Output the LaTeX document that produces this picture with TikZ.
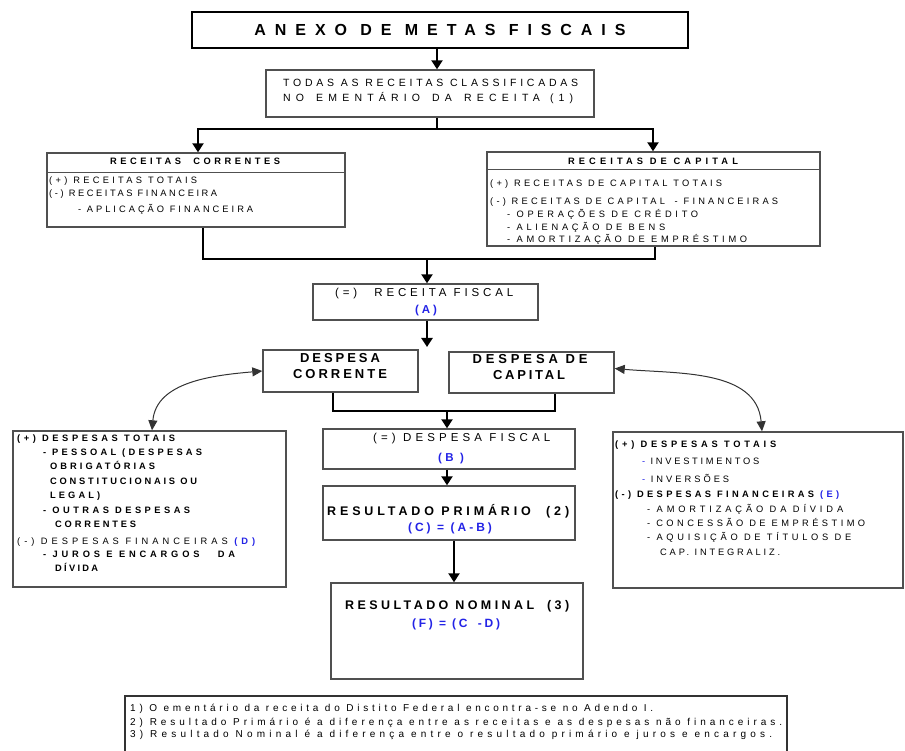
\documentclass[tikz,border=0pt]{standalone}
\usepackage{fontspec}
\setmainfont{Liberation Sans}
\usepackage{graphicx}
\usetikzlibrary{arrows.meta,calc}
\definecolor{fblue}{RGB}{35,35,230}
\definecolor{bord}{RGB}{80,80,80}
\newlength\wa
\newlength\wb
\newcommand\lw[2]{%
  \settowidth\wa{\addfontfeature{LetterSpace=0}#2}%
  \settowidth\wb{\addfontfeature{LetterSpace=100}#2}%
  \edef\lsval{\fpeval{round(100*(#1pt-\wa)/(\wb-\wa),2)}}%
  \mbox{\addfontfeature{LetterSpace=\lsval}#2}}
\newcommand\fsz[1]{\fontsize{#1}{#1}\selectfont}
\newcommand\bl[1]{\textcolor{fblue}{\bfseries #1}}
\tikzset{
  box/.style={draw=bord, line width=1.4pt, rectangle, inner sep=0pt},
  con/.style={line width=2.4pt, draw=black},
  arr/.style={con, -{Triangle[length=9pt,width=11pt]}},
  carr/.style={line width=1pt, draw=black!80, {Triangle[length=10pt,width=9pt]}-{Triangle[length=10pt,width=9pt]}},
  tl/.style={inner sep=0pt, anchor=base west},
  tc/.style={inner sep=0pt, anchor=base},
  fs/.style={font=\fsz{9.3}},
  fsb/.style={font=\fsz{9.3}\bfseries},
  fm/.style={font=\fsz{11.5}},
  fmb/.style={font=\fsz{11.5}\bfseries},
  fl/.style={font=\fsz{12.5}\bfseries},
  fd/.style={font=\fsz{13}\bfseries},
  ft/.style={font=\fsz{10.5}},
  fn/.style={font=\fsz{10}},
}
\begin{document}
\begin{tikzpicture}[x=1pt,y=-1pt]
\useasboundingbox (0,0) rectangle (905,751);
\clip (0,0) rectangle (905,751);
% boxes
\node[box, draw=black, minimum width=496pt, minimum height=36pt] (title) at (440,30) {};
\node[box, minimum width=328pt, minimum height=47pt] (todas) at (430,93.5) {};
\node[box, minimum width=298pt, minimum height=74pt] (rc) at (196,190) {};
\node[box, minimum width=333pt, minimum height=94pt] (rk) at (653.5,199) {};
\node[box, minimum width=225pt, minimum height=36pt] (rf) at (425.5,302) {};
\node[box, minimum width=155pt, minimum height=42pt] (dc) at (340.5,371) {};
\node[box, minimum width=165pt, minimum height=41pt] (dk) at (531.5,372.5) {};
\node[box, minimum width=252pt, minimum height=40pt] (df) at (449,449) {};
\node[box, minimum width=252pt, minimum height=54pt] (rp) at (449,513) {};
\node[box, minimum width=252pt, minimum height=96pt] (rn) at (457,631) {};
\node[box, minimum width=273pt, minimum height=156pt] (ld) at (149.5,509) {};
\node[box, minimum width=290pt, minimum height=156pt] (rd) at (758,510) {};
\node[box, draw=black!80, line width=1.2pt, minimum width=662pt, minimum height=70pt] (fn) at (456,731) {};
\draw[bord, line width=1.4pt] ($(rc.north west)+(0,20)$) -- ($(rc.north east)+(0,20)$);
\draw[bord, line width=1.4pt] ($(rk.north west)+(0,18)$) -- ($(rk.north east)+(0,18)$);
% texts
\node[tc, font=\fsz{16}\bfseries] (t0) at (440,35.6) {\lw{371}{ANEXO DE METAS FISCAIS}};
\node[tl, ft] (t1) at (283,86.8) {\lw{295}{TODAS AS RECEITAS CLASSIFICADAS}};
\node[tl, ft] (t2) at (283,101.8) {\lw{290}{NO\hspace{4pt} EMENTÁRIO\hspace{4pt} DA\hspace{4pt} RECEITA\hspace{2pt} (1)}};
\node[tc, fsb] (c0) at (195,164.3) {\lw{170}{RECEITAS\hspace{6pt} CORRENTES}};
\node[tl, fs] (c1) at (49,183.3) {\lw{148}{(+) RECEITAS TOTAIS}};
\node[tl, fs] (c2) at (49,196.3) {\lw{168}{(-) RECEITAS FINANCEIRA}};
\node[tl, fs] (c3) at (78,212.3) {\lw{175}{- APLICAÇÃO FINANCEIRA}};
\node[tc, fsb] (k0) at (653,164.3) {\lw{170}{RECEITAS DE CAPITAL}};
\node[tl, fs] (k1) at (490,186.3) {\lw{232}{(+) RECEITAS DE CAPITAL TOTAIS}};
\node[tl, fs] (k2) at (490,204.3) {\lw{288}{(-) RECEITAS DE CAPITAL\hspace{4pt} - FINANCEIRAS}};
\node[tl, fs] (k3) at (507,217.3) {\lw{191}{- OPERAÇÕES DE CRÉDITO}};
\node[tl, fs] (k4) at (507,230.3) {\lw{158}{- ALIENAÇÃO DE BENS}};
\node[tl, fs] (k5) at (507,242.3) {\lw{240}{- AMORTIZAÇÃO DE EMPRÉSTIMO}};
\node[tl, fm] (f1) at (335,296.2) {\lw{178}{(=)\hspace{10pt} RECEITA FISCAL}};
\node[tc, fmb] (f2) at (426,313.2) {\lw{22}{\bl{(A)}}};
\node[tc, fd] (d1) at (340,362.7) {\lw{80}{DESPESA}};
\node[tc, fd] (d2) at (340,378.7) {\lw{94}{CORRENTE}};
\node[tc, fd] (d3) at (530,363.7) {\lw{115}{DESPESA DE}};
\node[tc, fd] (d4) at (529,379.7) {\lw{72}{CAPITAL}};
\node[tl, fm] (g1) at (373,441.2) {\lw{177}{(=) DESPESA FISCAL}};
\node[tc, fmb] (g2) at (451,461.2) {\lw{26}{\bl{(B )}}};
\node[tl, fl] (p1) at (327,515.5) {\lw{242}{RESULTADO PRIMÁRIO\hspace{8pt} (2)}};
\node[tc, font=\fsz{12}\bfseries] (p2) at (450,531.5) {\lw{84}{\bl{(C) = (A-B)}}};
\node[tl, fl] (n1) at (345,609.5) {\lw{224}{RESULTADO NOMINAL\hspace{6pt} (3)}};
\node[tc, font=\fsz{12}\bfseries] (n2) at (456,627.5) {\lw{88}{\bl{(F) = (C\hspace{4pt} -D)}}};
% left box
\node[tl, fsb] (l1) at (17,441.3) {\lw{158}{(+) DESPESAS TOTAIS}};
\node[tl, fsb] (l2) at (43,455.3) {\lw{159}{- PESSOAL (DESPESAS}};
\node[tl, fsb] (l3) at (50,469.3) {\lw{105}{OBRIGATÓRIAS}};
\node[tl, fsb] (l4) at (50,484.3) {\lw{147}{CONSTITUCIONAIS OU}};
\node[tl, fsb] (l5) at (50,498.3) {\lw{50}{LEGAL)}};
\node[tl, fsb] (l6) at (43,513.3) {\lw{147}{- OUTRAS DESPESAS}};
\node[tl, fsb] (l7) at (55,527.3) {\lw{81}{CORRENTES}};
\node[tl, fs] (l8) at (17,544.3) {\lw{238}{(-) DESPESAS FINANCEIRAS \bl{(D)}}};
\node[tl, fsb] (l9) at (43,557.3) {\lw{192}{- JUROS E ENCARGOS\hspace{12pt} DA}};
\node[tl, fsb] (l10) at (55,571.3) {\lw{43}{DÍVIDA}};
% right box
\node[tl, fsb] (r1) at (615,447.3) {\lw{161}{(+) DESPESAS TOTAIS}};
\node[tl, fs] (r2) at (642,464.3) {\lw{117}{\textcolor{fblue}{-} INVESTIMENTOS}};
\node[tl, fs] (r3) at (642,482.3) {\lw{87}{\textcolor{fblue}{-} INVERSÕES}};
\node[tl, fsb] (r4) at (615,497.3) {\lw{224}{(-) DESPESAS FINANCEIRAS \bl{(E)}}};
\node[tl, fs] (r5) at (647,512.3) {\lw{196}{- AMORTIZAÇÃO DA DÍVIDA}};
\node[tl, fs] (r6) at (647,526.3) {\lw{218}{- CONCESSÃO DE EMPRÉSTIMO}};
\node[tl, fs] (r7) at (647,540.3) {\lw{204}{- AQUISIÇÃO DE TÍTULOS DE}};
\node[tl, fs] (r8) at (660,555.3) {\lw{120}{CAP. INTEGRALIZ.}};
% footnotes
\node[tl, fn] (o1) at (130,711.5) {\lw{523}{1) O ementário da receita do Distito Federal encontra-se no Adendo I.}};
\node[tl, fn] (o2) at (130,725.5) {\lw{652}{2) Resultado Primário é a diferença entre as receitas e as despesas não financeiras.}};
\node[tl, fn] (o3) at (130,737) {\lw{642}{3) Resultado Nominal é a diferença entre o resultado primário e juros e encargos.}};
% connectors
\coordinate (x1) at (437,0);
\coordinate (j1) at (437,129);
\coordinate (xl) at (198,0);
\coordinate (xr) at (653,0);
\draw[arr] (title.south -| x1) -- (todas.north -| x1);
\draw[con] (todas.south -| x1) -- (j1);
\draw[arr] (j1) -| (rc.north -| xl);
\draw[arr] (j1) -| (rk.north -| xr);
\coordinate (x2) at (203,0);
\coordinate (x3) at (655,0);
\coordinate (j2) at (427,259);
\draw[con] (rc.south -| x2) |- (j2);
\draw[con] (rk.south -| x3) |- (j2);
\draw[arr] (j2) -- (rf.north -| j2);
\coordinate (e1) at (427,347);
\draw[arr] (rf.south -| e1) -- (e1);
\coordinate (x4) at (333,0);
\coordinate (x5) at (555,0);
\coordinate (j3) at (447,411);
\draw[con] (dc.south -| x4) |- (j3);
\draw[con] (dk.south -| x5) |- (j3);
\draw[arr] (j3) -- (df.north -| j3);
\draw[arr] (df.south -| j3) -- (rp.north -| j3);
\coordinate (x6) at (454,0);
\draw[arr] (rp.south -| x6) -- (rn.north -| x6);
\draw[carr] (dc.west) to[out=185,in=85] ($(ld.north)+(2.5,0)$);
\draw[carr] ($(dk.east)+(0,-4)$) to[out=-5,in=95] ($(rd.north)+(4,0)$);
\end{tikzpicture}
\end{document}
